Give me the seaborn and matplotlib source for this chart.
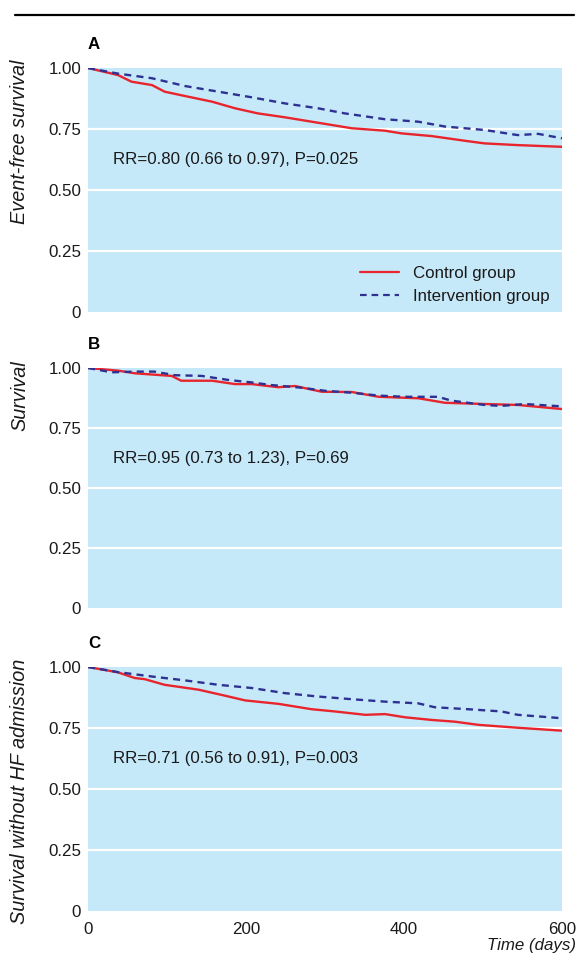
import matplotlib
matplotlib.use("Agg")
import matplotlib.pyplot as plt
from matplotlib.lines import Line2D
import seaborn as sns
import pandas as pd

# ---- data ----
a_ctrl_t = [0, 38, 55, 81, 97, 123, 157, 186, 215, 249, 283, 334, 376, 397, 435, 481, 502, 544, 600]
a_ctrl_s = [1.00, 0.971, 0.944, 0.930, 0.903, 0.885, 0.862, 0.835, 0.814, 0.798, 0.780, 0.753, 0.743, 0.732, 0.721, 0.700, 0.691, 0.684, 0.677]
a_int_t = [0, 38, 81, 123, 165, 207, 249, 291, 325, 376, 418, 452, 502, 544, 570, 600]
a_int_s = [1.00, 0.977, 0.958, 0.926, 0.903, 0.880, 0.855, 0.835, 0.814, 0.790, 0.780, 0.760, 0.746, 0.725, 0.730, 0.712]

b_ctrl_t = [0, 38, 59, 106, 118, 157, 186, 207, 241, 262, 296, 334, 368, 418, 452, 502, 544, 600]
b_ctrl_s = [1.00, 0.989, 0.978, 0.967, 0.947, 0.947, 0.933, 0.933, 0.920, 0.925, 0.901, 0.900, 0.880, 0.874, 0.855, 0.850, 0.846, 0.829]
b_int_t = [0, 30, 59, 84, 110, 144, 178, 207, 232, 270, 300, 334, 368, 401, 443, 460, 502, 523, 553, 600]
b_int_s = [1.00, 0.982, 0.985, 0.985, 0.970, 0.967, 0.950, 0.940, 0.929, 0.918, 0.905, 0.897, 0.885, 0.880, 0.880, 0.864, 0.846, 0.842, 0.850, 0.840]

c_ctrl_t = [0, 38, 59, 72, 97, 140, 174, 199, 241, 283, 312, 351, 376, 401, 435, 464, 494, 544, 600]
c_ctrl_s = [1.00, 0.978, 0.955, 0.950, 0.927, 0.907, 0.882, 0.863, 0.849, 0.827, 0.818, 0.804, 0.807, 0.794, 0.783, 0.776, 0.763, 0.751, 0.739]
c_int_t = [0, 38, 81, 123, 165, 207, 249, 291, 334, 376, 418, 439, 481, 523, 544, 600]
c_int_s = [1.00, 0.979, 0.961, 0.945, 0.927, 0.914, 0.893, 0.879, 0.868, 0.858, 0.851, 0.835, 0.827, 0.818, 0.804, 0.790]

groups = ["Control group", "Intervention group"]
panel_letters = ["A", "B", "C"]
ylabels = ["Event-free survival", "Survival", "Survival without HF admission"]
rr_texts = ["RR=0.80 (0.66 to 0.97), P=0.025",
            "RR=0.95 (0.73 to 1.23), P=0.69",
            "RR=0.71 (0.56 to 0.91), P=0.003"]
yticks = [0, 0.25, 0.5, 0.75, 1.0]
ytick_labels = ["0", "0.25", "0.50", "0.75", "1.00"]
xticks = [0, 200, 400, 600]
xtick_labels = ["0", "200", "400", "600"]
xlabel = "Time (days)"

panels = [
    (a_ctrl_t, a_ctrl_s, a_int_t, a_int_s),
    (b_ctrl_t, b_ctrl_s, b_int_t, b_int_s),
    (c_ctrl_t, c_ctrl_s, c_int_t, c_int_s),
]

sns.set_theme(style="white")
plt.rcParams["font.family"] = ["Liberation Sans", "DejaVu Sans"]

BG = "#c6e9f9"
RED = "#e8242c"
NAVY = "#2e3192"
TXT = "#1a1a1a"
FS = 12.2

fig = plt.figure(figsize=(5.77, 9.56), dpi=100)
left = 88 / 577
width = (562 - 88) / 577
tops_bottoms = [(68, 312), (368, 608), (667, 911)]

fig.add_artist(Line2D([15 / 577, 574 / 577], [1 - 15 / 956, 1 - 15 / 956],
                      color="black", lw=1.6, transform=fig.transFigure))

for i, (ct, cs, it, is_) in enumerate(panels):
    top, bot = tops_bottoms[i]
    h = bot - top
    ax = fig.add_axes([left, 1 - bot / 956, width, h / 956])
    ax.set_facecolor(BG)
    df = pd.concat([
        pd.DataFrame({"t": ct, "s": cs, "g": groups[0]}),
        pd.DataFrame({"t": it, "s": is_, "g": groups[1]}),
    ])
    sns.lineplot(data=df, x="t", y="s", hue="g", style="g",
                 palette={groups[0]: RED, groups[1]: NAVY},
                 dashes={groups[0]: "", groups[1]: (3, 2.2)},
                 linewidth=1.7, ax=ax, legend=False, sort=False,
                 estimator=None)
    ax.set_xlim(0, 600)
    ax.set_ylim(0, 1.0)
    for y in [0.25, 0.5, 0.75]:
        ax.axhline(y, color="white", lw=1.6, zorder=1)
    for s in ax.spines.values():
        s.set_visible(False)
    ax.set_yticks(yticks)
    ax.set_yticklabels(ytick_labels, fontsize=FS, color=TXT)
    ax.set_xticks(xticks)
    ax.tick_params(axis="y", length=0, pad=5)
    ax.tick_params(axis="x", direction="in", color="white", length=4, width=1.2)
    if i == 2:
        ax.set_xticklabels(xtick_labels, fontsize=FS, color=TXT)
        ax.tick_params(axis="x", pad=8)
    else:
        ax.set_xticklabels([])
    ax.set_xlabel("")
    ax.set_ylabel("")
    # y label: top-aligned near the top of each panel
    ax.text(-(88 - 20) / 474, 1 + 8 / h, ylabels[i], transform=ax.transAxes,
            rotation=90, ha="center", va="top", fontsize=14.3, style="italic",
            color=TXT)
    ax.text(32, 0.625, rr_texts[i], fontsize=FS, color=TXT, va="center", ha="left")
    ax.text(0.0, 1 + 16 / h, panel_letters[i], transform=ax.transAxes, fontsize=FS,
            fontweight="bold", ha="left", va="bottom", color="black")
    if i == 0:
        handles = [Line2D([], [], color=RED, lw=1.6),
                   Line2D([], [], color=NAVY, lw=1.6, dashes=(3, 2.2))]
        ax.legend(handles, groups, loc="lower right", frameon=False, fontsize=FS,
                  handlelength=2.3, handletextpad=0.8, labelspacing=0.5,
                  bbox_to_anchor=(1.0, -0.02), borderaxespad=0.35, labelcolor=TXT)
    if i == 2:
        ax.text(1.03, -0.142, xlabel, transform=ax.transAxes, fontsize=FS,
                style="italic", ha="right", va="center", color=TXT)

fig.savefig("out.png", dpi=100)
